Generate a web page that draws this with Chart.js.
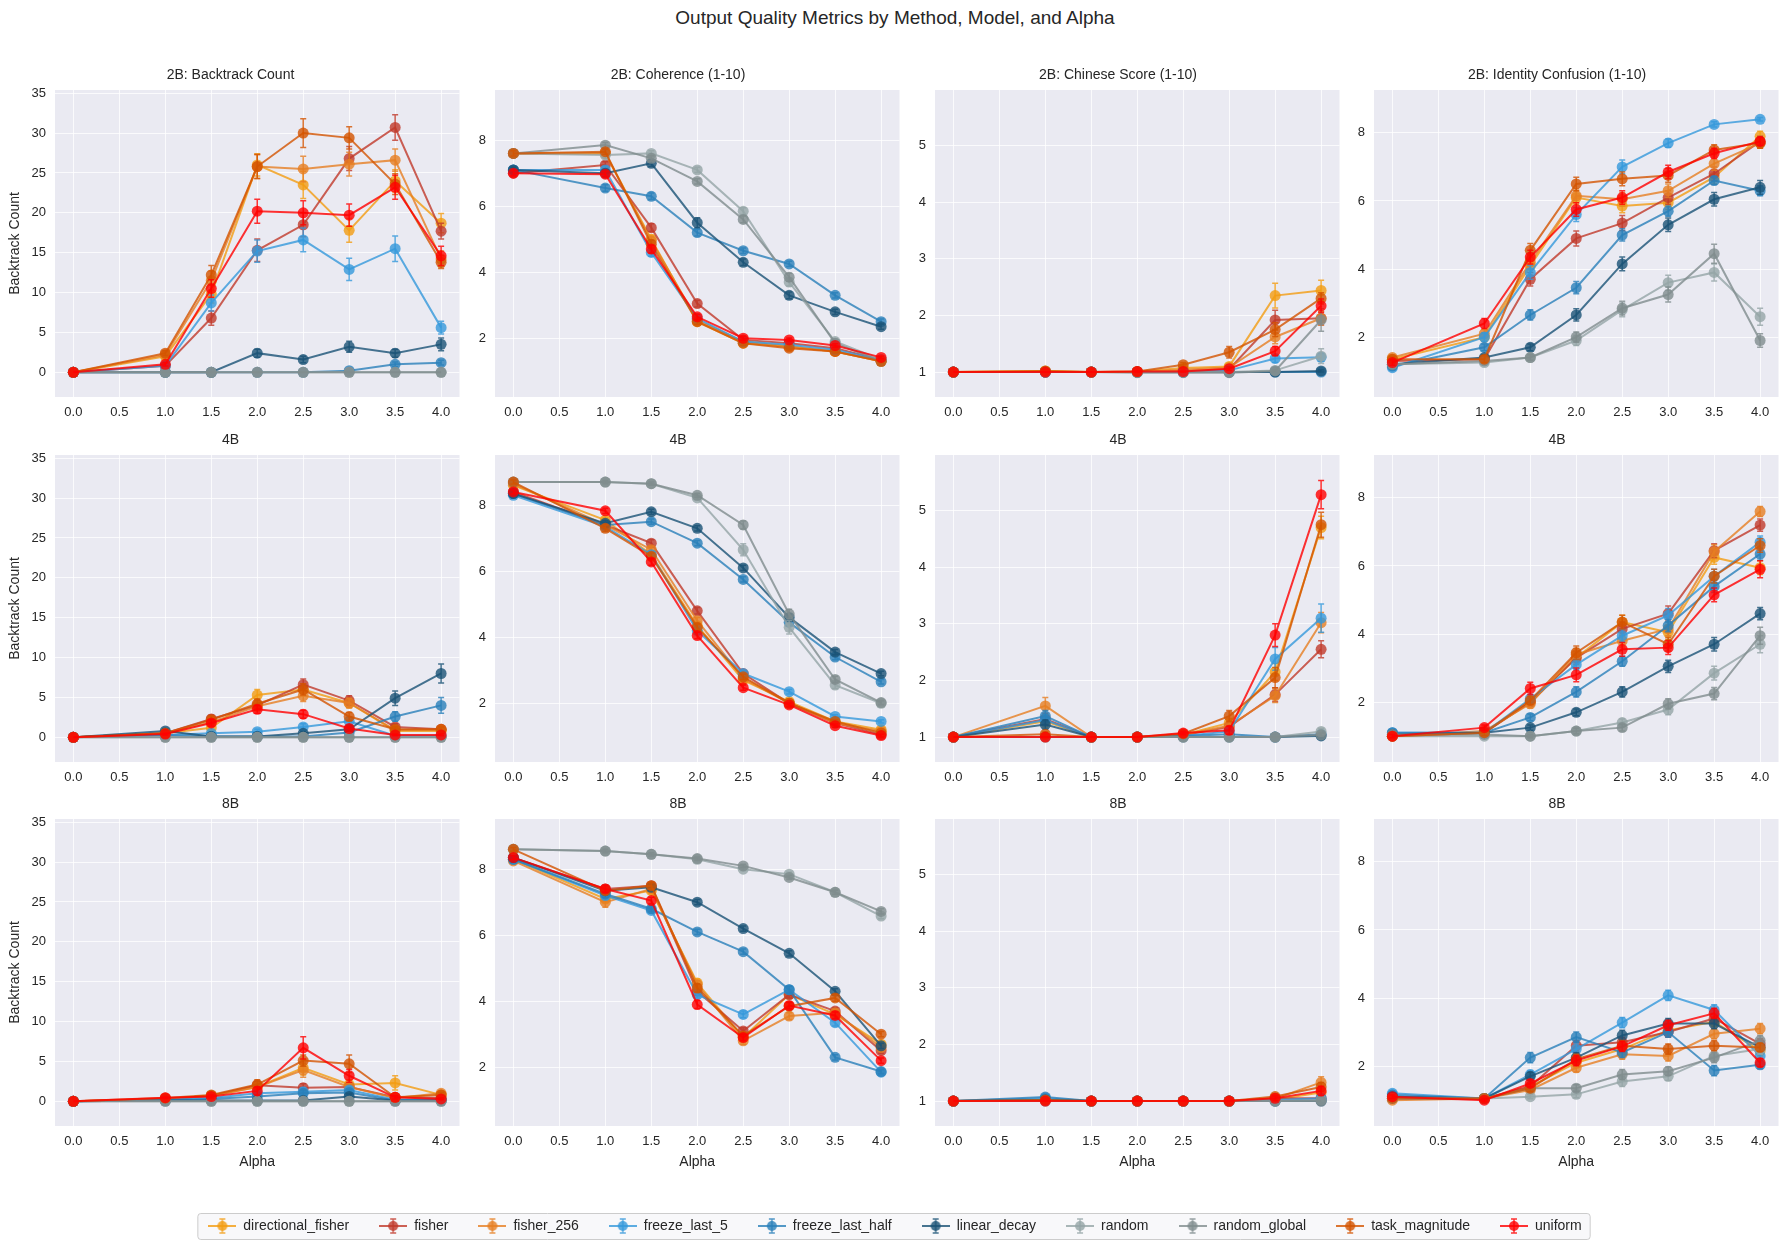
<!DOCTYPE html>
<html>
<head>
<meta charset="utf-8">
<script src="https://cdn.jsdelivr.net/npm/chart.js@4.4.1/dist/chart.umd.min.js"></script>
<style>
  body { margin: 0; background: #fff; width: 1790px; height: 1249px; position: relative; overflow: hidden;
         font-family: "Liberation Sans", Arial, sans-serif; }
  #title { position: absolute; top: 7px; left: 0; width: 1790px; text-align: center;
           font-size: 19px; line-height: 22px; color: #262626; }
  canvas { position: absolute; }
</style>
</head>
<body>
<div id="title">Output Quality Metrics by Method, Model, and Alpha</div>
<script>
// ---- data ----
const alphas = [0, 1, 1.5, 2, 2.5, 3, 3.5, 4];
const methods = ['directional_fisher', 'fisher', 'fisher_256', 'freeze_last_5', 'freeze_last_half',
                 'linear_decay', 'random', 'random_global', 'task_magnitude', 'uniform'];
const methodColors = ['#f39c12', '#c0392b', '#e67e22', '#3498db', '#2980b9',
                      '#1a5276', '#95a5a6', '#7f8c8d', '#d35400', '#ff0000'];
const models = ['2B', '4B', '8B'];
const metrics = ['Backtrack Count', 'Coherence (1-10)', 'Chinese Score (1-10)', 'Identity Confusion (1-10)'];
const yMin = [-3.1, 0.22, 0.56, 0.24];
const yMax = [35.4, 9.52, 5.98, 9.26];
const yStep = [5, 2, 1, 2];

// rows follow the methods order
const backtrack_2B = [
  [0, 2.0, 9.8, 26.0, 23.5, 17.8, 24.0, 18.7],
  [0, 0.8, 6.8, 15.3, 18.5, 26.8, 30.7, 17.7],
  [0, 2.2, 11.5, 25.8, 25.5, 26.1, 26.6, 14.2],
  [0, 0.8, 8.7, 15.2, 16.6, 12.9, 15.5, 5.6],
  [0, 0, 0, 0, 0, 0.2, 1.0, 1.2],
  [0, 0, 0, 2.4, 1.6, 3.2, 2.4, 3.5],
  [0, 0, 0, 0, 0, 0, 0, 0],
  [0, 0, 0, 0, 0, 0, 0, 0],
  [0, 2.4, 12.2, 25.8, 30.0, 29.4, 23.6, 13.8],
  [0, 1.0, 10.5, 20.2, 20.0, 19.7, 23.2, 14.6]
];
const backtrack_2B_err = [
  [0, 0.3, 1.1, 1.4, 1.7, 1.5, 1.4, 1.2],
  [0, 0.2, 0.9, 1.4, 1.5, 1.5, 1.6, 1.0],
  [0, 0.3, 1.2, 1.5, 1.6, 1.5, 1.4, 1.0],
  [0, 0.2, 1.0, 1.4, 1.5, 1.4, 1.6, 0.8],
  [0, 0, 0, 0, 0, 0.1, 0.3, 0.3],
  [0, 0, 0, 0.5, 0.4, 0.7, 0.5, 0.8],
  [0, 0, 0, 0, 0, 0, 0, 0],
  [0, 0, 0, 0, 0, 0, 0, 0],
  [0, 0.3, 1.2, 1.5, 1.8, 1.4, 1.3, 0.8],
  [0, 0.2, 1.1, 1.5, 1.5, 1.4, 1.5, 1.2]
];
const coherence_2B = [
  [7.6, 7.6, 5.0, 2.5, 1.85, 1.75, 1.6, 1.3],
  [7.0, 7.25, 5.35, 3.05, 1.95, 1.85, 1.7, 1.35],
  [7.6, 7.6, 4.95, 2.55, 1.9, 1.75, 1.6, 1.3],
  [7.1, 7.1, 4.6, 2.6, 1.9, 1.8, 1.65, 1.35],
  [7.1, 6.55, 6.3, 5.2, 4.65, 4.25, 3.3, 2.5],
  [7.1, 7.0, 7.3, 5.5, 4.3, 3.3, 2.8, 2.35],
  [7.6, 7.55, 7.6, 7.1, 5.85, 3.7, 1.9, 1.35],
  [7.6, 7.85, 7.45, 6.75, 5.6, 3.85, 1.85, 1.3],
  [7.6, 7.65, 4.85, 2.5, 1.85, 1.7, 1.6, 1.3],
  [7.0, 6.97, 4.7, 2.65, 2.0, 1.95, 1.78, 1.42]
];
const coherence_2B_err = [
  [0.08, 0.08, 0.12, 0.08, 0.06, 0.06, 0.05, 0.04],
  [0.08, 0.1, 0.12, 0.1, 0.06, 0.06, 0.05, 0.04],
  [0.08, 0.08, 0.12, 0.08, 0.06, 0.06, 0.05, 0.04],
  [0.08, 0.1, 0.12, 0.08, 0.06, 0.06, 0.05, 0.04],
  [0.08, 0.1, 0.1, 0.1, 0.08, 0.08, 0.08, 0.08],
  [0.08, 0.1, 0.1, 0.15, 0.1, 0.1, 0.08, 0.08],
  [0.08, 0.08, 0.08, 0.08, 0.1, 0.12, 0.08, 0.05],
  [0.08, 0.08, 0.08, 0.08, 0.1, 0.12, 0.08, 0.05],
  [0.08, 0.08, 0.12, 0.08, 0.06, 0.06, 0.05, 0.04],
  [0.08, 0.08, 0.12, 0.08, 0.06, 0.06, 0.05, 0.04]
];
const chinese_2B = [
  [1, 1.02, 1, 1.01, 1.07, 1.1, 2.35, 2.44],
  [1, 1, 1, 1, 1.02, 1.05, 1.92, 1.95],
  [1, 1.01, 1, 1, 1.04, 1.08, 1.62, 1.95],
  [1, 1, 1, 1, 1, 1.03, 1.24, 1.26],
  [1, 1, 1, 1, 1, 1, 1.0, 1.0],
  [1, 1, 1, 1, 1, 1, 1.0, 1.02],
  [1, 1, 1, 1, 1, 1, 1.03, 1.28],
  [1, 1, 1, 0.99, 0.99, 0.99, 1.02, 1.92],
  [1, 1.02, 1, 1.01, 1.13, 1.35, 1.75, 2.3],
  [1, 1, 1, 1.01, 1.01, 1.06, 1.37, 2.17]
];
const chinese_2B_err = [
  [0, 0.02, 0, 0.01, 0.03, 0.05, 0.22, 0.18],
  [0, 0, 0, 0, 0.01, 0.03, 0.17, 0.12],
  [0, 0.01, 0, 0, 0.02, 0.04, 0.12, 0.12],
  [0, 0, 0, 0, 0, 0.02, 0.07, 0.07],
  [0, 0, 0, 0, 0, 0, 0, 0],
  [0, 0, 0, 0, 0, 0, 0, 0.02],
  [0, 0, 0, 0, 0, 0, 0.02, 0.13],
  [0, 0, 0, 0, 0, 0, 0.02, 0.2],
  [0, 0.02, 0, 0.01, 0.04, 0.1, 0.12, 0.1],
  [0, 0, 0, 0.01, 0.01, 0.03, 0.08, 0.12]
];
const identity_2B = [
  [1.35, 2.0, 4.1, 6.1, 5.85, 5.95, 6.7, 7.9],
  [1.3, 1.35, 3.7, 4.9, 5.35, 6.1, 6.8, 7.75],
  [1.4, 2.1, 4.2, 6.15, 6.05, 6.3, 7.1, 7.7],
  [1.1, 2.0, 3.9, 5.6, 7.0, 7.7, 8.25, 8.4],
  [1.15, 1.7, 2.65, 3.45, 5.0, 5.7, 6.6, 6.3],
  [1.2, 1.4, 1.7, 2.65, 4.15, 5.3, 6.05, 6.4],
  [1.2, 1.25, 1.4, 1.9, 2.8, 3.6, 3.9, 2.6],
  [1.2, 1.3, 1.4, 2.0, 2.85, 3.25, 4.45, 1.9],
  [1.35, 1.35, 4.55, 6.5, 6.65, 6.75, 7.5, 7.7],
  [1.25, 2.4, 4.35, 5.75, 6.1, 6.85, 7.4, 7.75]
];
const identity_2B_err = [
  [0.08, 0.12, 0.2, 0.2, 0.2, 0.2, 0.2, 0.15],
  [0.08, 0.1, 0.2, 0.22, 0.22, 0.2, 0.2, 0.15],
  [0.08, 0.12, 0.2, 0.2, 0.2, 0.2, 0.2, 0.15],
  [0.06, 0.12, 0.2, 0.2, 0.2, 0.12, 0.08, 0.05],
  [0.06, 0.1, 0.15, 0.18, 0.18, 0.15, 0.12, 0.15],
  [0.06, 0.08, 0.1, 0.18, 0.2, 0.2, 0.2, 0.2],
  [0.06, 0.06, 0.08, 0.15, 0.2, 0.22, 0.25, 0.25],
  [0.06, 0.06, 0.08, 0.15, 0.2, 0.22, 0.28, 0.2],
  [0.08, 0.1, 0.2, 0.2, 0.2, 0.2, 0.15, 0.15],
  [0.08, 0.15, 0.2, 0.2, 0.2, 0.2, 0.15, 0.12]
];

const backtrack_4B = [
  [0, 0.5, 1.2, 5.3, 6.0, 4.3, 0.8, 0.8],
  [0, 0.5, 2.3, 4.0, 6.6, 4.6, 1.3, 1.0],
  [0, 0.5, 1.9, 3.9, 5.2, 4.3, 0.9, 0.9],
  [0, 0.3, 0.5, 0.7, 1.3, 2.0, 0.2, 0.2],
  [0, 0.3, 0.1, 0.1, 0.1, 0.6, 2.6, 4.0],
  [0, 0.8, 0.1, 0.1, 0.5, 1.0, 4.9, 8.0],
  [0, 0, 0, 0, 0, 0, 0, 0],
  [0, 0, 0, 0, 0, 0, 0, 0],
  [0, 0.5, 2.2, 4.2, 6.0, 2.6, 1.0, 1.0],
  [0, 0.4, 1.8, 3.5, 2.9, 1.1, 0.3, 0.3]
];
const backtrack_4B_err = [
  [0, 0.2, 0.5, 0.7, 0.7, 0.6, 0.3, 0.3],
  [0, 0.2, 0.5, 0.6, 0.7, 0.6, 0.4, 0.3],
  [0, 0.2, 0.5, 0.6, 0.7, 0.6, 0.3, 0.3],
  [0, 0.1, 0.2, 0.3, 0.4, 0.5, 0.1, 0.1],
  [0, 0.1, 0.05, 0.05, 0.05, 0.2, 0.6, 1.0],
  [0, 0.3, 0.05, 0.05, 0.2, 0.3, 0.9, 1.2],
  [0, 0, 0, 0, 0, 0, 0, 0],
  [0, 0, 0, 0, 0, 0, 0, 0],
  [0, 0.2, 0.5, 0.6, 0.7, 0.5, 0.3, 0.3],
  [0, 0.1, 0.4, 0.5, 0.5, 0.3, 0.1, 0.1]
];
const coherence_4B = [
  [8.6, 7.55, 6.5, 4.35, 2.7, 2.05, 1.45, 1.2],
  [8.4, 7.4, 6.85, 4.8, 2.9, 2.0, 1.4, 1.05],
  [8.65, 7.4, 6.65, 4.5, 2.75, 2.0, 1.4, 1.15],
  [8.3, 7.35, 6.5, 4.2, 2.9, 2.35, 1.6, 1.45],
  [8.35, 7.4, 7.5, 6.85, 5.75, 4.45, 3.4, 2.65],
  [8.35, 7.45, 7.8, 7.3, 6.1, 4.6, 3.55, 2.9],
  [8.7, 8.7, 8.65, 8.22, 6.65, 4.3, 2.55, 2.0],
  [8.7, 8.7, 8.65, 8.3, 7.4, 4.7, 2.72, 2.02],
  [8.7, 7.3, 6.45, 4.3, 2.8, 2.0, 1.45, 1.1],
  [8.4, 7.83, 6.28, 4.05, 2.47, 1.95, 1.32, 1.02]
];
const coherence_4B_err = [
  [0.06, 0.08, 0.1, 0.1, 0.08, 0.06, 0.05, 0.04],
  [0.06, 0.08, 0.1, 0.1, 0.08, 0.06, 0.05, 0.04],
  [0.06, 0.08, 0.1, 0.1, 0.08, 0.06, 0.05, 0.04],
  [0.06, 0.08, 0.1, 0.1, 0.08, 0.07, 0.05, 0.05],
  [0.06, 0.08, 0.08, 0.08, 0.08, 0.1, 0.08, 0.07],
  [0.06, 0.08, 0.08, 0.08, 0.08, 0.1, 0.08, 0.07],
  [0.05, 0.05, 0.05, 0.06, 0.18, 0.2, 0.1, 0.06],
  [0.05, 0.05, 0.05, 0.06, 0.12, 0.15, 0.1, 0.06],
  [0.06, 0.1, 0.1, 0.1, 0.08, 0.06, 0.05, 0.04],
  [0.06, 0.08, 0.1, 0.1, 0.08, 0.06, 0.05, 0.04]
];
const chinese_4B = [
  [1, 1.28, 1, 1, 1.04, 1.25, 2.15, 4.7],
  [1, 1.32, 1, 1, 1.03, 1.18, 1.75, 2.55],
  [1, 1.55, 1, 1, 1.04, 1.2, 1.73, 3.02],
  [1, 1.3, 1, 1, 1.02, 1.1, 2.38, 3.1],
  [1, 1.37, 1, 1, 1.02, 1.05, 1.0, 1.05],
  [1, 1.22, 1, 1, 1.0, 1.0, 1.0, 1.02],
  [1, 1, 1, 1, 1, 1, 1, 1.1],
  [1, 1, 1, 1, 1, 1, 1, 1.04],
  [1, 1.05, 1, 1, 1.06, 1.37, 2.05, 4.75],
  [1, 1, 1, 1, 1.07, 1.12, 2.8, 5.28]
];
const chinese_4B_err = [
  [0, 0.1, 0, 0, 0.03, 0.08, 0.15, 0.2],
  [0, 0.1, 0, 0, 0.02, 0.07, 0.12, 0.15],
  [0, 0.15, 0, 0, 0.03, 0.08, 0.12, 0.18],
  [0, 0.1, 0, 0, 0.02, 0.05, 0.2, 0.25],
  [0, 0.1, 0, 0, 0.02, 0.06, 0, 0.03],
  [0, 0.08, 0, 0, 0, 0, 0, 0.02],
  [0, 0, 0, 0, 0, 0, 0, 0.05],
  [0, 0, 0, 0, 0, 0, 0, 0.03],
  [0, 0.04, 0, 0, 0.03, 0.1, 0.18, 0.22],
  [0, 0, 0, 0, 0.03, 0.07, 0.2, 0.25]
];
const identity_4B = [
  [1.0, 1.1, 2.0, 3.3, 4.35, 4.05, 6.25, 5.95],
  [1.0, 1.1, 2.0, 3.3, 4.15, 4.6, 6.45, 7.2],
  [1.0, 1.15, 1.95, 3.4, 3.8, 4.15, 6.42, 7.6],
  [1.1, 1.1, 2.1, 3.1, 3.95, 4.55, 5.7, 6.7],
  [1.1, 1.1, 1.55, 2.3, 3.2, 4.25, 5.4, 6.35],
  [1.05, 1.1, 1.25, 1.7, 2.3, 3.05, 3.7, 4.6],
  [1.0, 1.0, 1.0, 1.15, 1.4, 1.78, 2.85, 3.7],
  [1.05, 1.05, 1.0, 1.15, 1.25, 1.95, 2.25, 3.95],
  [1.0, 1.1, 2.05, 3.45, 4.35, 3.7, 5.7, 6.6],
  [1.0, 1.25, 2.4, 2.8, 3.55, 3.6, 5.15, 5.9]
];
const identity_4B_err = [
  [0.05, 0.08, 0.12, 0.2, 0.2, 0.2, 0.2, 0.2],
  [0.05, 0.08, 0.12, 0.18, 0.2, 0.22, 0.2, 0.18],
  [0.05, 0.08, 0.12, 0.18, 0.18, 0.2, 0.2, 0.15],
  [0.05, 0.06, 0.12, 0.15, 0.18, 0.2, 0.2, 0.18],
  [0.05, 0.06, 0.1, 0.15, 0.15, 0.18, 0.18, 0.18],
  [0.05, 0.05, 0.08, 0.1, 0.15, 0.18, 0.2, 0.18],
  [0.04, 0.04, 0.05, 0.08, 0.1, 0.15, 0.2, 0.25],
  [0.04, 0.04, 0.05, 0.08, 0.1, 0.15, 0.18, 0.25],
  [0.05, 0.08, 0.12, 0.2, 0.2, 0.2, 0.2, 0.2],
  [0.05, 0.08, 0.18, 0.2, 0.2, 0.2, 0.2, 0.25]
];

const backtrack_8B = [
  [0, 0.3, 0.7, 1.8, 4.2, 2.1, 2.3, 0.8],
  [0, 0.3, 0.7, 2.0, 1.7, 1.8, 0.5, 0.4],
  [0, 0.3, 0.7, 1.8, 3.9, 1.8, 0.4, 1.0],
  [0, 0.2, 0.4, 1.0, 1.2, 1.4, 0.2, 0.2],
  [0, 0.1, 0.3, 0.6, 1.0, 1.1, 0.1, 0.1],
  [0, 0.1, 0.1, 0.1, 0.1, 0.6, 0.1, 0.1],
  [0, 0, 0, 0, 0, 0, 0, 0],
  [0, 0, 0, 0, 0, 0, 0, 0],
  [0, 0.4, 0.8, 2.1, 5.1, 4.7, 0.5, 0.8],
  [0, 0.45, 0.6, 1.3, 6.7, 3.2, 0.5, 0.3]
];
const backtrack_8B_err = [
  [0, 0.1, 0.2, 0.5, 0.9, 0.6, 0.9, 0.3],
  [0, 0.1, 0.2, 0.5, 0.5, 0.5, 0.2, 0.2],
  [0, 0.1, 0.2, 0.5, 0.9, 0.5, 0.2, 0.3],
  [0, 0.1, 0.1, 0.3, 0.5, 0.4, 0.1, 0.1],
  [0, 0.05, 0.1, 0.2, 0.4, 0.4, 0.05, 0.05],
  [0, 0.05, 0.05, 0.05, 0.05, 0.3, 0.05, 0.05],
  [0, 0, 0, 0, 0, 0, 0, 0],
  [0, 0, 0, 0, 0, 0, 0, 0],
  [0, 0.1, 0.2, 0.6, 0.7, 1.1, 0.2, 0.3],
  [0, 0.1, 0.2, 0.5, 1.4, 0.8, 0.2, 0.1]
];
const coherence_8B = [
  [8.3, 7.1, 7.35, 4.55, 2.9, 4.2, 3.6, 2.7],
  [8.35, 7.4, 7.5, 4.3, 3.1, 4.2, 3.7, 2.5],
  [8.25, 7.0, 7.4, 4.5, 2.8, 3.55, 3.65, 2.6],
  [8.3, 7.2, 6.75, 4.2, 3.6, 4.35, 3.35, 1.85],
  [8.3, 7.25, 6.8, 6.1, 5.5, 4.35, 2.3, 1.87],
  [8.35, 7.35, 7.45, 7.0, 6.2, 5.45, 4.3, 2.65],
  [8.6, 8.55, 8.45, 8.3, 8.0, 7.85, 7.3, 6.58],
  [8.6, 8.55, 8.45, 8.32, 8.1, 7.75, 7.3, 6.72],
  [8.6, 7.35, 7.5, 4.4, 2.95, 3.85, 4.1, 3.0],
  [8.35, 7.4, 7.05, 3.9, 2.9, 3.87, 3.57, 2.2]
];
const coherence_8B_err = [
  [0.06, 0.12, 0.1, 0.12, 0.1, 0.1, 0.1, 0.08],
  [0.06, 0.12, 0.1, 0.12, 0.1, 0.1, 0.1, 0.08],
  [0.06, 0.15, 0.1, 0.12, 0.1, 0.1, 0.1, 0.08],
  [0.06, 0.1, 0.08, 0.1, 0.1, 0.1, 0.1, 0.08],
  [0.06, 0.1, 0.08, 0.08, 0.08, 0.1, 0.08, 0.06],
  [0.06, 0.08, 0.08, 0.08, 0.08, 0.08, 0.08, 0.08],
  [0.05, 0.05, 0.05, 0.05, 0.05, 0.06, 0.06, 0.08],
  [0.05, 0.05, 0.05, 0.05, 0.05, 0.06, 0.06, 0.08],
  [0.06, 0.1, 0.1, 0.12, 0.1, 0.1, 0.1, 0.08],
  [0.06, 0.1, 0.1, 0.12, 0.1, 0.1, 0.1, 0.08]
];
const chinese_8B = [
  [1, 1.02, 1, 1, 1, 1, 1.03, 1.15],
  [1, 1.02, 1, 1, 1, 1, 1.05, 1.05],
  [1, 1.03, 1, 1, 1, 1, 1.04, 1.33],
  [1, 1.05, 1, 1, 1, 1, 1.02, 1.05],
  [1, 1.07, 1, 1, 1, 1, 1.0, 1.02],
  [1, 1.02, 1, 1, 1, 1, 1.0, 1.0],
  [1, 1, 1, 1, 1, 1, 1, 1.02],
  [1, 1, 1, 1, 1, 1, 1, 1.0],
  [1, 1.02, 1, 1, 1, 1, 1.08, 1.25],
  [1, 1, 1, 1, 1, 1, 1.05, 1.18]
];
const chinese_8B_err = [
  [0, 0.02, 0, 0, 0, 0, 0.03, 0.08],
  [0, 0.02, 0, 0, 0, 0, 0.03, 0.04],
  [0, 0.03, 0, 0, 0, 0, 0.03, 0.1],
  [0, 0.04, 0, 0, 0, 0, 0.02, 0.04],
  [0, 0.04, 0, 0, 0, 0, 0, 0.02],
  [0, 0.02, 0, 0, 0, 0, 0, 0],
  [0, 0, 0, 0, 0, 0, 0, 0.02],
  [0, 0, 0, 0, 0, 0, 0, 0],
  [0, 0.02, 0, 0, 0, 0, 0.05, 0.08],
  [0, 0, 0, 0, 0, 0, 0.04, 0.08]
];
const identity_8B = [
  [1.05, 1.05, 1.4, 2.1, 2.5, 3.05, 3.3, 2.45],
  [1.05, 1.05, 1.4, 2.6, 2.7, 3.0, 3.4, 2.65],
  [1.0, 1.05, 1.3, 1.95, 2.35, 2.3, 2.95, 3.1],
  [1.2, 1.05, 1.75, 2.5, 3.28, 4.08, 3.65, 2.3],
  [1.15, 1.05, 2.25, 2.85, 2.4, 3.0, 1.87, 2.04],
  [1.1, 1.05, 1.7, 2.25, 2.9, 3.25, 3.25, 2.55],
  [1.05, 1.05, 1.1, 1.17, 1.55, 1.7, 2.3, 2.5],
  [1.05, 1.05, 1.35, 1.35, 1.75, 1.85, 2.25, 2.75],
  [1.05, 1.05, 1.35, 2.2, 2.6, 2.5, 2.6, 2.55],
  [1.1, 1.0, 1.49, 2.16, 2.58, 3.2, 3.55, 2.1]
];
const identity_8B_err = [
  [0.05, 0.05, 0.1, 0.15, 0.15, 0.15, 0.15, 0.15],
  [0.05, 0.05, 0.1, 0.15, 0.15, 0.15, 0.15, 0.15],
  [0.05, 0.05, 0.1, 0.12, 0.15, 0.15, 0.15, 0.15],
  [0.08, 0.05, 0.12, 0.18, 0.15, 0.15, 0.15, 0.12],
  [0.08, 0.05, 0.15, 0.15, 0.15, 0.15, 0.15, 0.12],
  [0.05, 0.05, 0.12, 0.15, 0.15, 0.15, 0.15, 0.12],
  [0.05, 0.05, 0.06, 0.1, 0.15, 0.12, 0.15, 0.15],
  [0.05, 0.05, 0.08, 0.1, 0.15, 0.12, 0.15, 0.15],
  [0.05, 0.05, 0.1, 0.15, 0.15, 0.15, 0.15, 0.12],
  [0.05, 0.05, 0.1, 0.15, 0.15, 0.15, 0.15, 0.12]
];

const panelMeans = [
  [backtrack_2B, coherence_2B, chinese_2B, identity_2B],
  [backtrack_4B, coherence_4B, chinese_4B, identity_4B],
  [backtrack_8B, coherence_8B, chinese_8B, identity_8B]
];
const panelErrs = [
  [backtrack_2B_err, coherence_2B_err, chinese_2B_err, identity_2B_err],
  [backtrack_4B_err, coherence_4B_err, chinese_4B_err, identity_4B_err],
  [backtrack_8B_err, coherence_8B_err, chinese_8B_err, identity_8B_err]
];

// ---- layout ----
const plotLeft = [55, 495, 935, 1374];
const plotTop = [90, 455, 819];
const plotW = 406, plotH = 307, titleH = 27;

Chart.defaults.font.family = '"Liberation Sans", Arial, sans-serif';
Chart.defaults.color = '#262626';

function rgba(hex, a) {
  const n = parseInt(hex.slice(1), 16);
  return `rgba(${n >> 16},${(n >> 8) & 255},${n & 255},${a})`;
}

const plotBg = {
  id: 'plotBg',
  beforeDraw(chart) {
    const {ctx, chartArea: a} = chart;
    ctx.save();
    ctx.fillStyle = '#eaeaf2';
    ctx.fillRect(a.left, a.top, a.width, a.height);
    ctx.restore();
  }
};

const errorBars = {
  id: 'errorBars',
  beforeDatasetDraw(chart, args) {
    const ds = chart.data.datasets[args.index];
    if (!ds.errors) return;
    const ctx = chart.ctx, ys = chart.scales.y;
    ctx.save();
    ctx.strokeStyle = ds.borderColor;
    ctx.lineWidth = 1.5;
    args.meta.data.forEach((pt, j) => {
      const e = ds.errors[j];
      if (!e) return;
      const v = ds.data[j].y;
      const y1 = ys.getPixelForValue(v - e), y2 = ys.getPixelForValue(v + e);
      ctx.beginPath();
      ctx.moveTo(pt.x, y1); ctx.lineTo(pt.x, y2);
      ctx.moveTo(pt.x - 3, y1); ctx.lineTo(pt.x + 3, y1);
      ctx.moveTo(pt.x - 3, y2); ctx.lineTo(pt.x + 3, y2);
      ctx.stroke();
    });
    ctx.restore();
  }
};

function makePanel(r, c) {
  const yW = c === 0 ? 55 : 40;
  const xH = r === 2 ? 48 : 30;
  const w = yW + plotW + 4, h = titleH + plotH + xH;
  const cv = document.createElement('canvas');
  cv.width = w; cv.height = h;
  cv.style.cssText = `left:${plotLeft[c] - yW}px;top:${plotTop[r] - titleH}px;width:${w}px;height:${h}px`;
  document.body.appendChild(cv);

  const means = panelMeans[r][c], errs = panelErrs[r][c];
  const datasets = methods.map((m, i) => ({
    label: m,
    data: alphas.map((a, j) => ({x: a, y: means[i][j]})),
    errors: errs[i],
    borderColor: rgba(methodColors[i], 0.8),
    backgroundColor: rgba(methodColors[i], 0.8),
    borderWidth: 2,
    pointRadius: 5.5,
    pointHoverRadius: 5.5,
    pointBorderWidth: 0,
    tension: 0,
    order: methods.length - 1 - i
  }));

  new Chart(cv, {
    type: 'line',
    data: {datasets},
    plugins: [plotBg, errorBars],
    options: {
      responsive: false,
      animation: false,
      devicePixelRatio: 1,
      layout: {padding: {top: 0, right: 4, bottom: 0, left: 0}},
      scales: {
        x: {
          type: 'linear',
          min: -0.2, max: 4.2,
          afterFit: s => { s.height = xH; },
          border: {display: false},
          grid: {color: 'rgba(255,255,255,0.75)', drawTicks: false},
          ticks: {stepSize: 0.5, includeBounds: false, padding: 8, font: {size: 13},
                  callback: v => v.toFixed(1)},
          title: {display: r === 2, text: 'Alpha', font: {size: 14}, padding: {top: 2, bottom: 3.6}}
        },
        y: {
          min: yMin[c], max: yMax[c],
          afterFit: s => { s.width = yW; },
          border: {display: false},
          grid: {color: 'rgba(255,255,255,0.75)', drawTicks: false},
          ticks: {stepSize: yStep[c], includeBounds: false, padding: 9, font: {size: 13}},
          title: {display: c === 0, text: 'Backtrack Count', font: {size: 14}, padding: {top: 6.6, bottom: 0}}
        }
      },
      plugins: {
        legend: {display: false},
        tooltip: {enabled: false},
        title: {
          display: true,
          text: r === 0 ? `${models[r]}: ${metrics[c]}` : models[r],
          font: {size: 14, weight: 'normal'},
          color: '#262626',
          padding: {top: 4.2, bottom: 6}
        }
      }
    }
  });
}

for (let r = 0; r < 3; r++) for (let c = 0; c < 4; c++) makePanel(r, c);

// ---- shared legend ----
function legendIcon(color) {
  const cv = document.createElement('canvas');
  cv.width = 28; cv.height = 18;
  const g = cv.getContext('2d');
  const col = rgba(color, 0.8);
  g.strokeStyle = col; g.fillStyle = col;
  g.lineWidth = 2;
  g.beginPath(); g.moveTo(0, 9); g.lineTo(28, 9); g.stroke();
  g.lineWidth = 1.5;
  g.beginPath();
  g.moveTo(14, 2); g.lineTo(14, 16);
  g.moveTo(11, 2); g.lineTo(17, 2);
  g.moveTo(11, 16); g.lineTo(17, 16);
  g.stroke();
  g.beginPath(); g.arc(14, 9, 5, 0, Math.PI * 2); g.fill();
  return cv;
}

const legendFrame = {
  id: 'legendFrame',
  beforeDraw(chart) {
    const boxes = chart.legend.legendHitBoxes;
    if (!boxes || !boxes.length) return;
    const first = boxes[0], last = boxes[boxes.length - 1];
    const x0 = first.left - 11, x1 = last.left + last.width + 8;
    const y0 = first.top - 6, y1 = first.top + first.height + 6;
    const ctx = chart.ctx;
    ctx.save();
    ctx.fillStyle = 'rgba(248,248,250,1)';
    ctx.strokeStyle = '#cccccc';
    ctx.lineWidth = 1;
    ctx.beginPath();
    ctx.roundRect(x0 + 0.5, y0 + 0.5, x1 - x0, y1 - y0, 3);
    ctx.fill(); ctx.stroke();
    ctx.restore();
  }
};

// tall canvas so the legend box (labels.padding is also used vertically) is not clipped
const lg = document.createElement('canvas');
lg.width = 1790; lg.height = 180;
lg.style.cssText = 'left:0;top:1189px;width:1790px;height:180px';
document.body.appendChild(lg);

new Chart(lg, {
  type: 'line',
  data: {datasets: methods.map((m, i) => ({label: m, data: [], borderColor: methodColors[i]}))},
  plugins: [legendFrame],
  options: {
    responsive: false,
    animation: false,
    devicePixelRatio: 1,
    scales: {x: {display: false}, y: {display: false}},
    plugins: {
      tooltip: {enabled: false},
      legend: {
        display: true,
        position: 'top',
        onClick: null,
        labels: {
          usePointStyle: true,
          pointStyleWidth: 28,
          padding: 30,
          font: {size: 14},
          color: '#262626',
          generateLabels: () => methods.map((m, i) => ({
            text: m,
            pointStyle: legendIcon(methodColors[i]),
            fillStyle: methodColors[i],
            strokeStyle: methodColors[i],
            fontColor: '#262626',
            lineWidth: 0,
            hidden: false,
            datasetIndex: i
          }))
        }
      }
    }
  }
});
</script>
</body>
</html>
